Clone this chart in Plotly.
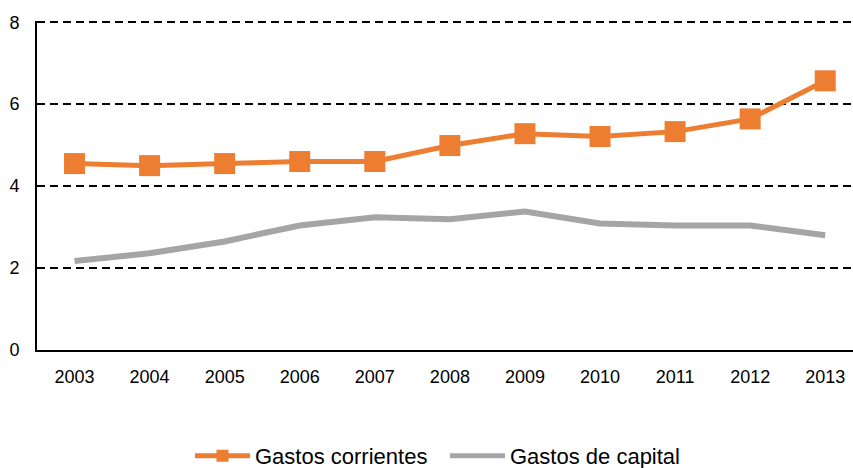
import plotly.graph_objects as go

years = ["2003", "2004", "2005", "2006", "2007", "2008", "2009", "2010", "2011", "2012", "2013"]
corrientes = [4.55, 4.50, 4.55, 4.60, 4.60, 4.99, 5.28, 5.21, 5.33, 5.64, 6.57]
capital = [2.17, 2.36, 2.65, 3.04, 3.24, 3.19, 3.38, 3.09, 3.04, 3.04, 2.80]

fig = go.Figure()
fig.add_trace(go.Scatter(
    x=years, y=corrientes, name="Gastos corrientes", mode="lines+markers",
    line=dict(color="#ED7D31", width=5),
    marker=dict(symbol="square", size=21, color="#ED7D31"),
))
fig.add_trace(go.Scatter(
    x=years, y=capital, name="Gastos de capital", mode="lines",
    line=dict(color="#A5A5A5", width=6),
))

fig.update_layout(
    width=853, height=468,
    margin=dict(l=37, r=0, t=21, b=118, autoexpand=False),
    plot_bgcolor="white", paper_bgcolor="white",
    font=dict(family="Liberation Sans, Arial, sans-serif", color="black", size=18),
    legend=dict(orientation="h", x=0.5, xanchor="center", y=-0.322, yanchor="middle",
                font=dict(size=22), itemwidth=55, itemsizing="constant",
                entrywidth=185, entrywidthmode="pixels"),
    showlegend=True,
)
fig.update_xaxes(
    type="category", range=[-0.5, 10.37], automargin=False,
    showline=True, linecolor="black", linewidth=2,
    showgrid=False, ticks="", ticklabelstandoff=9,
    tickfont=dict(size=18),
)
fig.update_yaxes(
    range=[0, 8.03], tickvals=[0, 2, 4, 6, 8], automargin=False,
    showline=True, linecolor="black", linewidth=2,
    showgrid=True, gridcolor="black", gridwidth=1.5, griddash="8px,5px",
    zeroline=False, ticks="", ticklabelstandoff=12,
    tickfont=dict(size=18),
)

fig.write_html("out.html", config={"displayModeBar": False},
               post_script="document.body.style.margin='0';document.body.style.overflow='hidden';")
